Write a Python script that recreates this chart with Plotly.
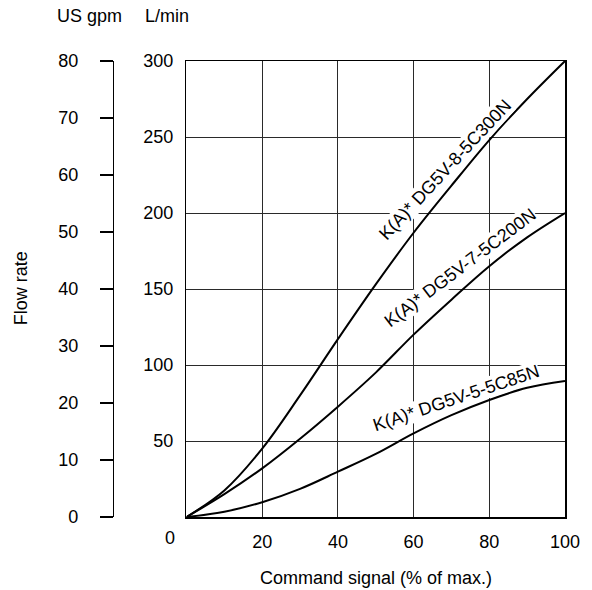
import plotly.graph_objects as go

# ---- data ----
signal_pct = [0, 10, 20, 30, 40, 50, 60, 70, 80, 90, 100]
flow_300N = [0, 17.5, 45, 80, 117, 153, 187, 218, 248, 275, 300]
flow_200N = [0, 15, 32, 51.5, 72.6, 95, 120, 143, 165, 184, 200]
flow_85N = [0, 3.5, 9.7, 18.5, 29.8, 41.5, 55, 67, 77, 85, 89.5]

labels = ["K(A)* DG5V-8-5C300N", "K(A)* DG5V-7-5C200N", "K(A)* DG5V-5-5C85N"]
label_x = [68.2, 72.2, 71.3]
label_y = [228.5, 164.0, 78.6]
label_angle = [-47, -37, -18.5]

x_ticks = [20, 40, 60, 80, 100]
lmin_ticks = [50, 100, 150, 200, 250, 300]
gpm_ticks = [0, 10, 20, 30, 40, 50, 60, 70, 80]

# ---- layout geometry (page pixels) ----
W, H = 592, 590
PLOT_L, PLOT_R, PLOT_T, PLOT_B = 187, 567, 61, 517
ML = 60
MR = W - PLOT_R
MT = PLOT_T
MB = H - PLOT_B
PW = W - ML - MR
PH = H - MT - MB


def px_x(px):
    return (px - ML) / PW


def px_y(py):
    return (H - MB - py) / PH


FONT = "Liberation Sans, Arial, Helvetica, sans-serif"
FS = 18

fig = go.Figure()
for ys in (flow_300N, flow_200N, flow_85N):
    fig.add_trace(go.Scatter(x=signal_pct, y=ys, mode="lines",
                             line=dict(color="black", width=2, shape="spline", smoothing=1.0),
                             hoverinfo="skip", showlegend=False))

# invisible trace on the gpm axis so it is drawn
fig.add_trace(go.Scatter(x=[0, 100], y=[0, 80], yaxis="y2", mode="lines",
                         line=dict(width=0), opacity=0, hoverinfo="skip", showlegend=False))

annotations = []
for t, x, y, a in zip(labels, label_x, label_y, label_angle):
    annotations.append(dict(x=x, y=y, xref="x", yref="y", text=t, textangle=a,
                            showarrow=False, bgcolor="white", borderpad=0,
                            xanchor="center", yanchor="middle",
                            font=dict(family=FONT, size=FS, color="black")))

annotations += [
    dict(x=px_x(90), y=px_y(16), xref="paper", yref="paper", text="US gpm", showarrow=False,
         font=dict(family=FONT, size=FS, color="black"), xanchor="center", yanchor="middle"),
    dict(x=px_x(167.5), y=px_y(16), xref="paper", yref="paper", text="L/min", showarrow=False,
         font=dict(family=FONT, size=FS, color="black"), xanchor="center", yanchor="middle"),
    dict(x=px_x(20.5), y=px_y(288.5), xref="paper", yref="paper", text="Flow rate", textangle=-90,
         showarrow=False, font=dict(family=FONT, size=FS, color="black"),
         xanchor="center", yanchor="middle"),
    dict(x=px_x(377), y=px_y(578), xref="paper", yref="paper", text="Command signal (% of max.)",
         showarrow=False, font=dict(family=FONT, size=FS, color="black"),
         xanchor="center", yanchor="middle"),
    dict(x=px_x(170), y=px_y(538), xref="paper", yref="paper", text="0",
         showarrow=False, font=dict(family=FONT, size=FS, color="black"),
         xanchor="center", yanchor="middle"),
]

fig.update_layout(
    width=W, height=H,
    margin=dict(l=ML, r=MR, t=MT, b=MB, pad=0),
    paper_bgcolor="white", plot_bgcolor="white",
    font=dict(family=FONT, size=FS, color="black"),
    showlegend=False,
    xaxis=dict(domain=[px_x(PLOT_L), 1], range=[0, 100], tickvals=x_ticks,
               showgrid=True, gridcolor="#2a2a2a", gridwidth=1,
               showline=True, linecolor="black", linewidth=1.5, mirror=True,
               ticks="", ticklabelstandoff=8, zeroline=False, fixedrange=True),
    yaxis=dict(range=[0, 300], tickvals=lmin_ticks,
               showgrid=True, gridcolor="#2a2a2a", gridwidth=1,
               showline=True, linecolor="black", linewidth=1.5, mirror=True,
               ticks="", ticklabelstandoff=8, zeroline=False, fixedrange=True),
    yaxis2=dict(range=[0, 80], tickvals=gpm_ticks, overlaying="y", anchor="free",
                position=px_x(113), side="left",
                showgrid=False, zeroline=False, showline=True, linecolor="black", linewidth=1.5,
                ticks="outside", ticklen=13, tickwidth=1.5, tickcolor="black",
                ticklabelstandoff=18, fixedrange=True),
    annotations=annotations,
)

fig.write_html("out.html", config={"displayModeBar": False, "staticPlot": True},
               post_script="document.body.style.margin='0';document.body.style.overflow='hidden';")
